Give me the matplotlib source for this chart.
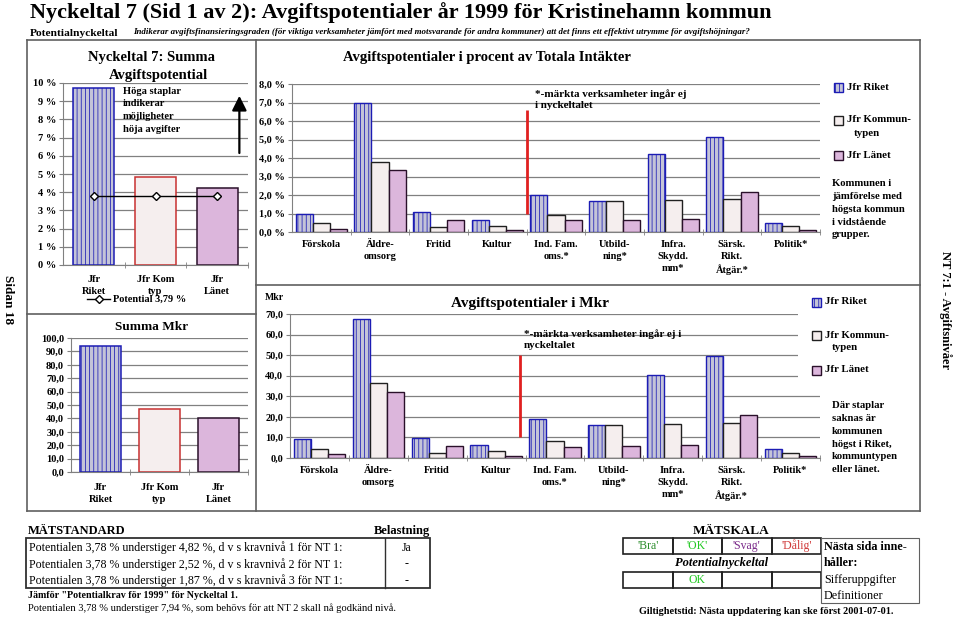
"""Nyckeltal 7 - Avgiftspotentialer 1999, Kristinehamn."""
import numpy as np
import matplotlib
matplotlib.use("Agg")
import matplotlib.pyplot as plt
from matplotlib.patches import Rectangle

plt.rcParams["font.family"] = ["Liberation Serif", "DejaVu Serif"]
plt.rcParams["font.weight"] = "bold"
plt.rcParams["hatch.linewidth"] = 0.55

# --- Data ---
sum_cats = ["Jfr\nRiket", "Jfr Kom\ntyp", "Jfr\nLänet"]
sum_pct = [9.72, 4.82, 4.25]
sum_mkr = [93.7, 46.7, 40.5]
potential = 3.79

cats = ["Förskola", "Äldre-\nomsorg", "Fritid", "Kultur", "Ind. Fam.\noms.*",
        "Utbild-\nning*", "Infra.\nSkydd.\nmm*", "Särsk.\nRikt.\nÅtgär.*", "Politik*"]
pct_riket = [0.98, 7.00, 1.08, 0.67, 1.99, 1.68, 4.20, 5.16, 0.47]
pct_komtyp = [0.46, 3.76, 0.27, 0.33, 0.92, 1.68, 1.72, 1.77, 0.33]
pct_lanet = [0.15, 3.35, 0.63, 0.13, 0.63, 0.63, 0.69, 2.17, 0.13]
mkr_riket = [9.4, 67.6, 9.8, 6.4, 19.1, 15.8, 40.4, 49.8, 4.4]
mkr_komtyp = [4.6, 36.6, 2.6, 3.3, 8.5, 15.8, 16.6, 17.1, 2.6]
mkr_lanet = [1.8, 32.2, 5.7, 1.0, 5.4, 5.7, 6.4, 20.7, 1.0]

# red divider (x, ymin, ymax)
div_pct = (3.5, 1.0, 6.6)
div_mkr = (3.4, 10.0, 50.0)

series_names = ["Jfr Riket", "Jfr Kommun-", "Jfr Länet"]

standard_rows = [
    ("Potentialen 3,78 % understiger 4,82 %, d v s kravnivå 1 för NT 1:", "Ja"),
    ("Potentialen 3,78 % understiger 2,52 %, d v s kravnivå 2 för NT 1:", "-"),
    ("Potentialen 3,78 % understiger 1,87 %, d v s kravnivå 3 för NT 1:", "-"),
]
scale_labels = ["'Bra'", "'OK'", "'Svag'", "'Dålig'"]
scale_colors = ["#2e8f2e", "#22c822", "#7a2a8a", "#d03a3a"]
result_idx = 1

C_RIKET, E_RIKET = "#c4c4d8", "#1c1cb4"
C_KOM = "#f5eeee"
C_LAN, E_LAN = "#dcb6dc", "#2a102a"
GRID = "#808080"
SERIES_STYLE = [dict(facecolor=C_RIKET, edgecolor=E_RIKET, hatch="||||"),
                dict(facecolor=C_KOM, edgecolor="#202020"),
                dict(facecolor=C_LAN, edgecolor=E_LAN)]

W, H = 960, 617
fig = plt.figure(figsize=(9.6, 6.17), dpi=100)
bg = fig.add_axes([0, 0, 1, 1])
bg.set_xlim(0, W)
bg.set_ylim(H, 0)
bg.axis("off")
bg.set_zorder(10)


def px_rect(x0, y0, x1, y1):
    return [x0 / W, 1 - y1 / H, (x1 - x0) / W, (y1 - y0) / H]


def setup(ax, ymax, step, fmt, ncat, labels, pad=6):
    ax.set_facecolor("none")
    ax.set_xlim(-0.5, ncat - 0.5)
    ax.set_ylim(0, ymax)
    ticks = np.arange(0, ymax + step / 2, step)
    ax.set_yticks(ticks)
    ax.set_yticklabels([fmt(v) for v in ticks])
    ax.yaxis.grid(True, color=GRID, lw=0.9)
    ax.set_axisbelow(True)
    for s in ["top", "right"]:
        ax.spines[s].set_visible(False)
    ax.spines["left"].set_color(GRID)
    ax.spines["bottom"].set_color(GRID)
    ax.set_xticks(range(ncat))
    ax.set_xticklabels(labels, fontsize=7.5, linespacing=1.4, va="top")
    ax.tick_params(axis="x", which="major", length=0, pad=pad)
    ax.set_xticks(np.arange(0.5, ncat - 0.4), minor=True)
    ax.tick_params(axis="x", which="minor", length=5, direction="inout", color=GRID)
    ax.tick_params(axis="y", length=3, color=GRID, labelsize=7.5, pad=2)


def side_legend(x, ys, white_box=None):
    # legend drawn by hand: Excel puts the 2-line label's square at its first line
    if white_box is not None:
        bg.add_patch(Rectangle(white_box[:2], white_box[2], white_box[3],
                               facecolor="white", edgecolor="none"))
    for name, y, st in zip(series_names, ys, SERIES_STYLE):
        bg.add_patch(Rectangle((x, y - 4.5), 9, 9, lw=1, **st))
        bg.text(x + 13, y, name, fontsize=7.8, va="center", ha="left")
    bg.text(x + 20, ys[1] + 13, "typen", fontsize=7.8, va="center", ha="left")


# ============================================================
# Frame
# ============================================================
lk = dict(color="#606060", lw=1.2)
bg.plot([27, 920], [40, 40], **lk)
bg.plot([27, 920], [511, 511], **lk)
bg.plot([27, 27], [40, 511], **lk)
bg.plot([920, 920], [40, 511], **lk)
bg.plot([256, 256], [40, 511], **lk)
bg.plot([27, 256], [314, 314], **lk)
bg.plot([256, 920], [285, 285], **lk)

bg.text(30, 13, "Nyckeltal 7 (Sid 1 av 2): Avgiftspotentialer år 1999 för Kristinehamn kommun",
        fontsize=16, va="center", ha="left")
bg.text(30, 33, "Potentialnyckeltal", fontsize=8.2, va="center")
bg.text(133, 32, "Indikerar avgiftsfinansieringsgraden (för viktiga verksamheter jämfört med "
        "motsvarande för andra kommuner) att det finns ett effektivt utrymme för avgiftshöjningar?",
        fontsize=6.4, style="italic", va="center")
bg.text(8, 300, "Sidan 18", rotation=-90, fontsize=9.5, va="center", ha="center")
bg.text(945, 310, "NT 7:1 - Avgiftsnivåer", rotation=-90, fontsize=9, va="center", ha="center")

# ============================================================
# Left top: Summa avgiftspotential (%)
# ============================================================
ax1 = fig.add_axes(px_rect(63, 83, 248, 265))
setup(ax1, 10, 1, lambda v: f"{v:.0f} %", 3, sum_cats, pad=7)
styles = [dict(color=C_RIKET, edgecolor=E_RIKET, hatch="||||"),
          dict(color=C_KOM, edgecolor="#c83030"),
          dict(color=C_LAN, edgecolor=E_LAN)]
for i, v in enumerate(sum_pct):
    ax1.bar(i, v, 0.66, lw=1.1, **styles[i])
ax1.plot(range(3), [potential] * 3, color="black", lw=1, marker="D", ms=4,
         mfc="white", mec="black", label="Potential 3,79 %")
ax1.annotate("", xy=(2.36, 9.45), xytext=(2.36, 6.0),
             arrowprops=dict(arrowstyle="-|>", color="black", lw=1.6, mutation_scale=22))
ax1.legend(frameon=False, loc="center", bbox_to_anchor=(0.4, -0.19), fontsize=7.5,
           handlelength=2.2, borderpad=0, handletextpad=0.3)
bg.text(151, 57, "Nyckeltal 7: Summa", fontsize=10.5, ha="center", va="center")
bg.text(158, 76, "Avgiftspotential", fontsize=10.5, ha="center", va="center")
bg.text(123, 87, "Höga staplar\nindikerar\nmöjligheter\nhöja avgifter", fontsize=7.6,
        ha="left", va="top", linespacing=1.5)

# ============================================================
# Left bottom: Summa Mkr
# ============================================================
ax2 = fig.add_axes(px_rect(71, 338, 248, 472))
setup(ax2, 100, 10, lambda v: f"{v:.1f}".replace(".", ","), 3, sum_cats, pad=8)
for i, v in enumerate(sum_mkr):
    ax2.bar(i, v, 0.68, lw=1.1, **styles[i])
bg.text(152, 333, "Summa Mkr", fontsize=9.5, ha="center", va="bottom")

# ============================================================
# Right charts
# ============================================================
def grouped(ax, riket, komtyp, lanet):
    x = np.arange(len(riket))
    w = 0.29
    for off, vals, st in zip((-w, 0, w), (riket, komtyp, lanet), SERIES_STYLE):
        ax.bar(x + off, vals, w, lw=1, **st)


ax3 = fig.add_axes(px_rect(292, 84, 820, 232))
setup(ax3, 8, 1, lambda v: f"{v:.1f} %".replace(".", ","), 9, cats)
grouped(ax3, pct_riket, pct_komtyp, pct_lanet)
ax3.vlines(div_pct[0], div_pct[1], div_pct[2], color="#e02020", lw=2)
side_legend(834, [87, 120, 155])
bg.text(487, 57, "Avgiftspotentialer i procent av Totala Intäkter", fontsize=10.5,
        ha="center", va="center")
bg.text(535, 89, "*-märkta verksamheter ingår ej\ni nyckeltalet", fontsize=8,
        ha="left", va="top", linespacing=1.35)
bg.text(832, 179, "Kommunen i\njämförelse med\nhögsta kommun\ni vidstående\ngrupper.",
        fontsize=7.7, ha="left", va="top", linespacing=1.55)

ax4 = fig.add_axes(px_rect(290, 314, 820, 458))
setup(ax4, 70, 10, lambda v: f"{v:.1f}".replace(".", ","), 9, cats)
grouped(ax4, mkr_riket, mkr_komtyp, mkr_lanet)
ax4.vlines(div_mkr[0], div_mkr[1], div_mkr[2], color="#e02020", lw=2)
side_legend(812, [302, 335, 370], white_box=(798, 290, 110, 95))
bg.text(265, 297, "Mkr", fontsize=7, ha="left", va="center")
bg.text(530, 303, "Avgiftspotentialer i Mkr", fontsize=11, ha="center", va="center")
bg.text(524, 329, "*-märkta verksamheter ingår ej i\nnyckeltalet", fontsize=8,
        ha="left", va="top", linespacing=1.35)
bg.text(832, 401, "Där staplar\nsaknas är\nkommunen\nhögst i Riket,\nkommuntypen\neller länet.",
        fontsize=7.7, ha="left", va="top", linespacing=1.55)

# ============================================================
# Mätstandard
# ============================================================
bg.text(28, 531, "MÄTSTANDARD", fontsize=9, va="center")
bg.text(430, 531, "Belastning", fontsize=9, va="center", ha="right")
bg.add_patch(Rectangle((26, 538), 404, 50, fill=False, lw=1.3, ec="#303030"))
bg.plot([385, 385], [538, 588], color="#303030", lw=1)
for i, (txt, val) in enumerate(standard_rows):
    y = 548 + i * 16.5
    bg.text(29, y, txt, fontsize=8.6, weight="normal", va="center")
    bg.text(407, y, val, fontsize=8.6, weight="normal", va="center", ha="center")
bg.text(28, 595, 'Jämför "Potentialkrav för 1999" för Nyckeltal 1.', fontsize=7.2, va="center")
bg.text(28, 608, "Potentialen 3,78 % understiger 7,94 %, som behövs för att NT 2 skall nå godkänd nivå.",
        fontsize=7.6, weight="normal", va="center")

# ============================================================
# Mätskala
# ============================================================
bg.text(731, 531, "MÄTSKALA", fontsize=9.5, va="center", ha="center")
cw = 49.5
for i, (lab, col) in enumerate(zip(scale_labels, scale_colors)):
    x0 = 623 + i * cw
    bg.add_patch(Rectangle((x0, 538), cw, 16, fill=False, lw=1.2, ec="#202020"))
    bg.add_patch(Rectangle((x0, 572), cw, 16, fill=False, lw=1.2, ec="#202020"))
    bg.text(x0 + cw / 2, 546, lab, color=col, fontsize=8.5, weight="normal",
            ha="center", va="center")
    if i == result_idx:
        bg.text(x0 + cw / 2, 580, "OK", color=col, fontsize=8.5, weight="normal",
                ha="center", va="center")
bg.text(722, 563, "Potentialnyckeltal", fontsize=9, style="italic", ha="center", va="center")
bg.add_patch(Rectangle((821, 538), 98, 65, fill=False, lw=0.8, ec="#606060"))
bg.text(824, 547, "Nästa sida inne-", fontsize=8.7, va="center")
bg.text(824, 563, "håller:", fontsize=8.7, va="center")
bg.text(824, 580, "Sifferuppgifter", fontsize=8.7, weight="normal", va="center")
bg.text(824, 596, "Definitioner", fontsize=8.7, weight="normal", va="center")
bg.text(766, 611, "Giltighetstid: Nästa uppdatering kan ske först 2001-07-01.",
        fontsize=7.4, ha="center", va="center")

fig.savefig("out.png", dpi=100)
